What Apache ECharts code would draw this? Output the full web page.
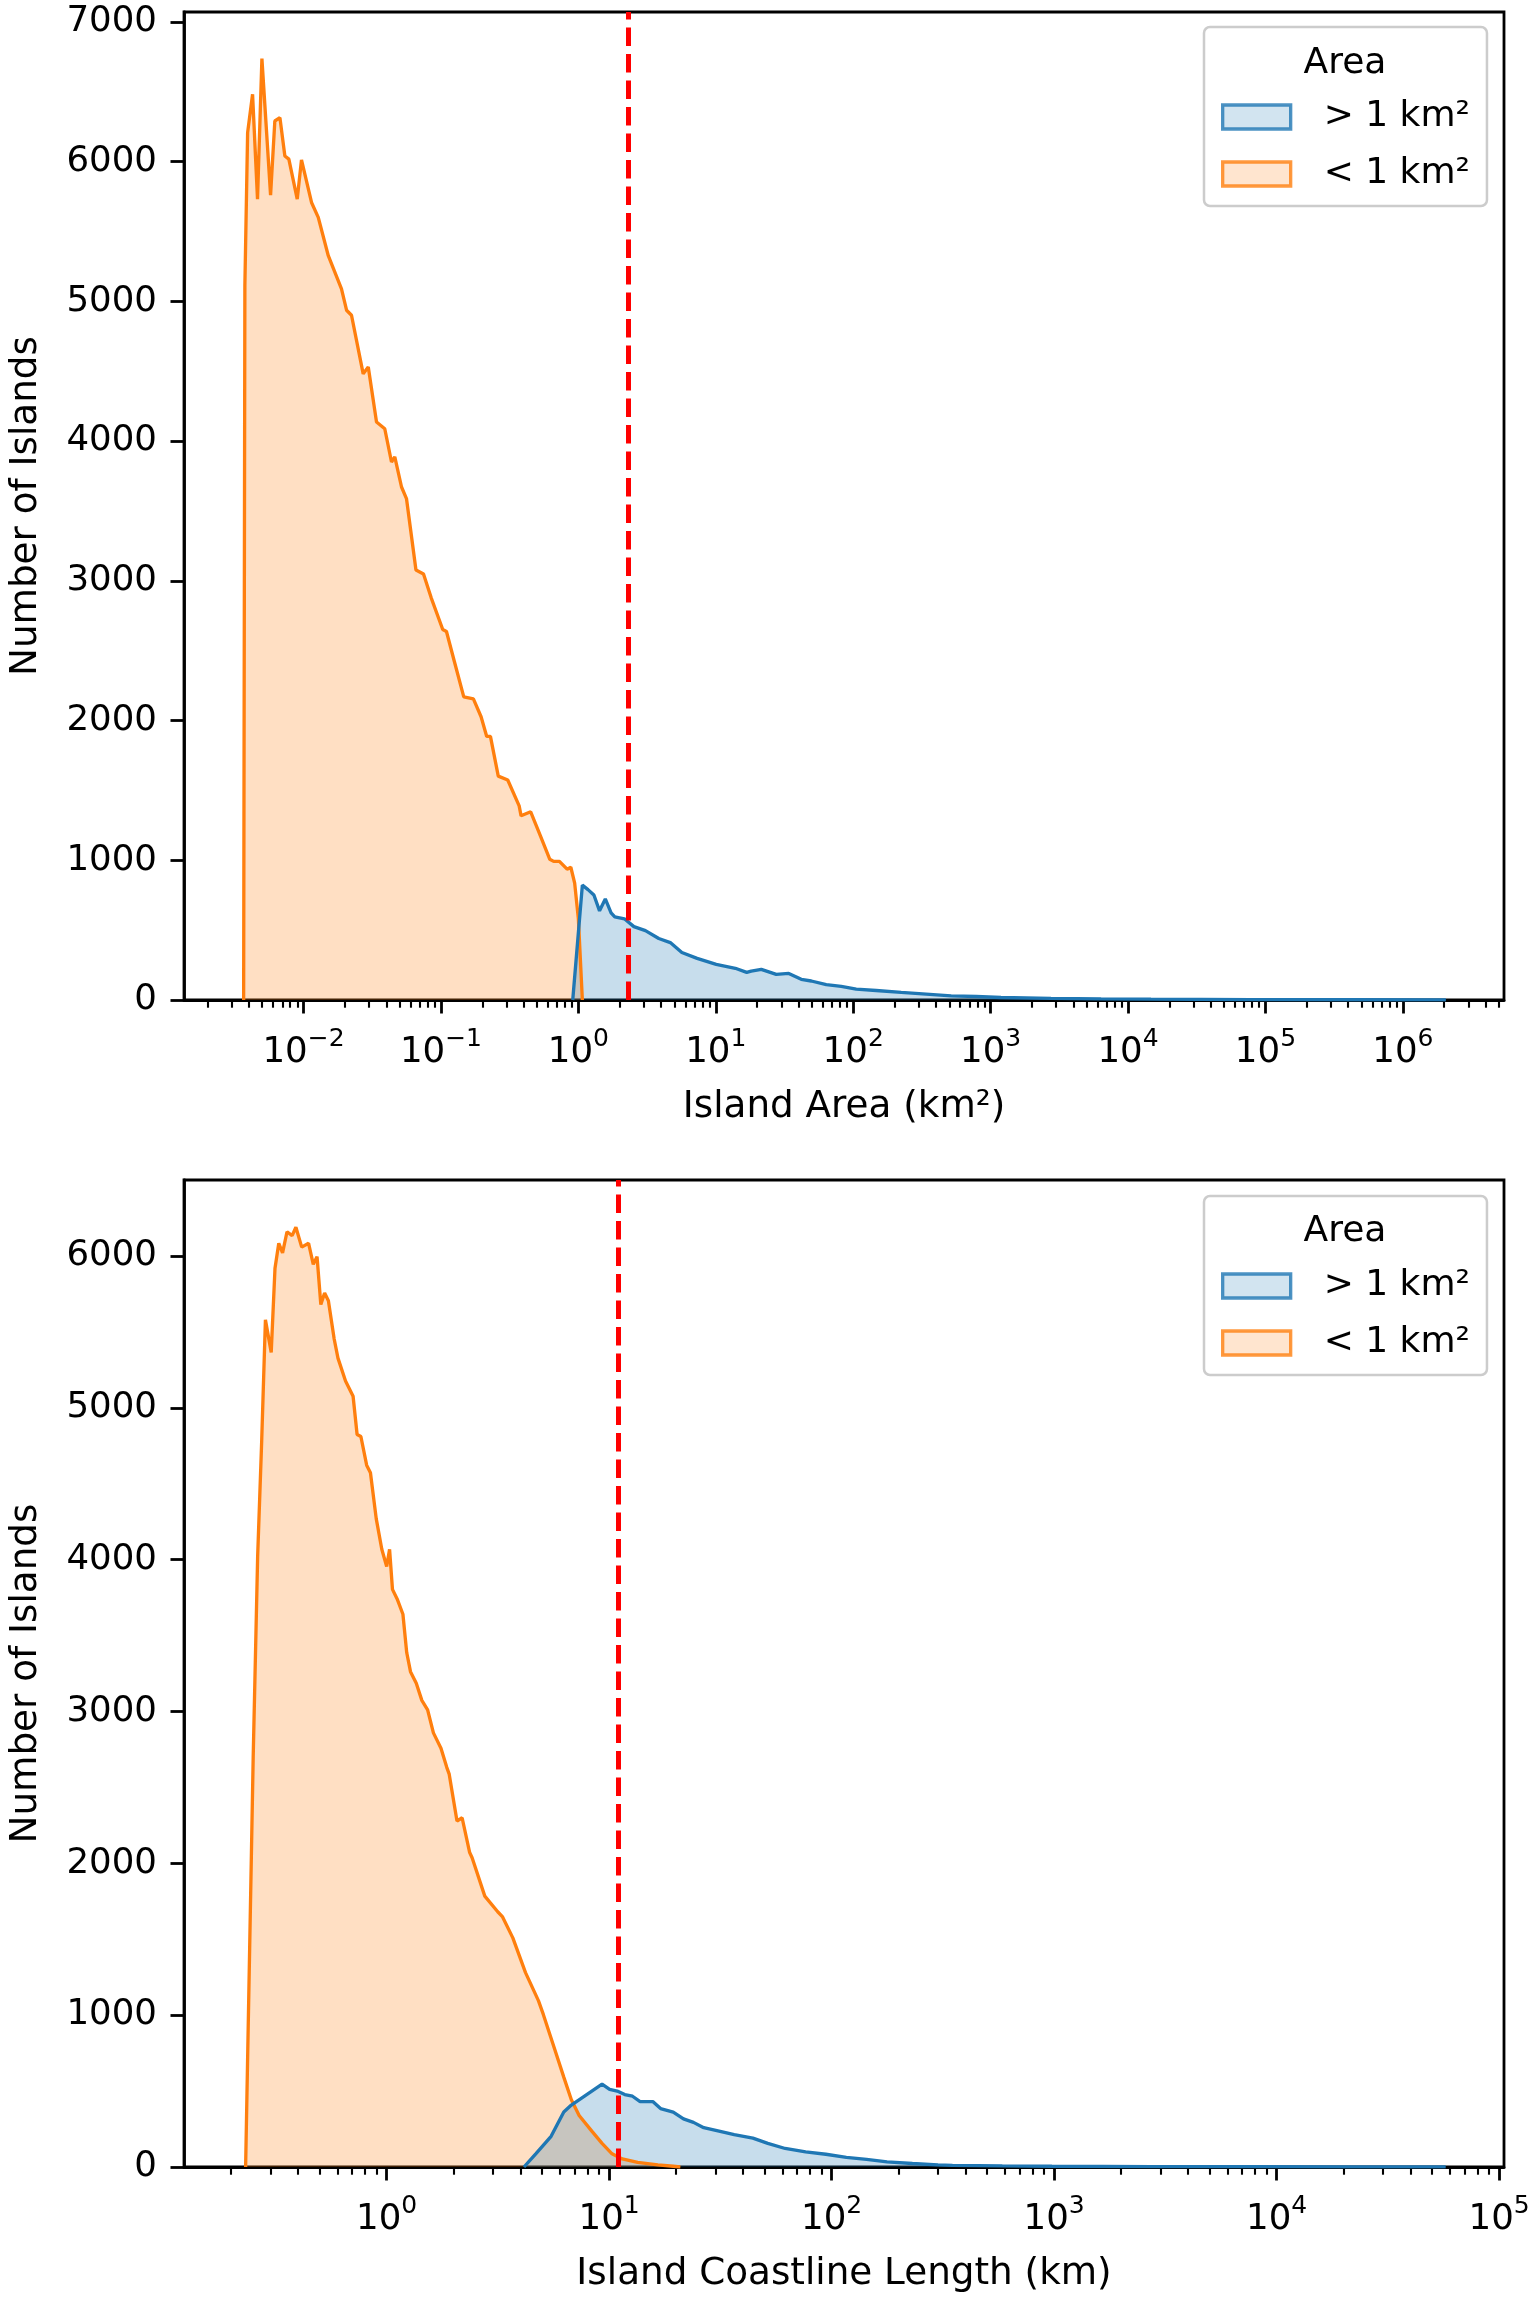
<!DOCTYPE html>
<html>
<head>
<meta charset="utf-8">
<script src="https://cdn.jsdelivr.net/npm/echarts@6/dist/echarts.min.js"></script>
<style>html,body{margin:0;padding:0;background:#fff}#c{width:1535px;height:2297px}</style>
</head>
<body>
<div id="c"></div>
<script>
// ---- data: [log10(x), count] pairs ----
const areaSmall = [[-2.436,0],[-2.427,5114],[-2.407,6207],[-2.371,6481],[-2.335,5731],[-2.303,6736],[-2.24,5760],[-2.209,6290],[-2.172,6314],[-2.136,6040],[-2.107,6017],[-2.046,5731],[-2.015,6012],[-1.942,5707],[-1.893,5600],[-1.82,5326],[-1.724,5088],[-1.687,4936],[-1.651,4900],[-1.566,4481],[-1.529,4529],[-1.469,4136],[-1.409,4088],[-1.36,3850],[-1.336,3886],[-1.287,3671],[-1.251,3588],[-1.182,3077],[-1.127,3048],[-1.071,2878],[-0.987,2651],[-0.96,2637],[-0.903,2424],[-0.834,2169],[-0.764,2155],[-0.708,2027],[-0.667,1886],[-0.64,1886],[-0.583,1602],[-0.514,1574],[-0.431,1389],[-0.417,1318],[-0.347,1347],[-0.277,1177],[-0.208,1007],[-0.18,992],[-0.138,992],[-0.082,936],[-0.055,950],[-0.027,836],[0.0,581],[0.029,0]];
const areaLarge = [[-0.041,0],[0.029,822],[0.07,790],[0.113,751],[0.154,638],[0.196,723],[0.238,624],[0.265,595],[0.335,581],[0.404,525],[0.488,496],[0.585,440],[0.669,411],[0.753,340],[0.864,298],[1.003,255],[1.142,227],[1.225,198],[1.258,207],[1.331,219],[1.44,183],[1.531,190],[1.622,148],[1.695,136],[1.804,110],[1.913,98],[2.022,78],[2.167,68],[2.349,54],[2.531,42],[2.713,30],[2.895,25],[3.076,18],[3.44,12],[3.804,8],[4.167,6],[4.895,3],[5.622,2],[6.313,1],[6.313,0]];
const coastSmall = [[-0.634,0],[-0.6,2700],[-0.58,4018],[-0.562,4773],[-0.545,5579],[-0.519,5365],[-0.502,5919],[-0.485,6083],[-0.468,6020],[-0.448,6159],[-0.425,6134],[-0.408,6189],[-0.382,6058],[-0.351,6083],[-0.33,5945],[-0.313,5995],[-0.296,5680],[-0.279,5756],[-0.262,5705],[-0.236,5453],[-0.219,5327],[-0.185,5176],[-0.151,5076],[-0.133,4824],[-0.116,4811],[-0.09,4622],[-0.073,4572],[-0.047,4270],[-0.022,4068],[0.0,3955],[0.013,4068],[0.026,3804],[0.047,3741],[0.073,3640],[0.09,3388],[0.107,3262],[0.133,3186],[0.158,3073],[0.184,3010],[0.21,2859],[0.244,2758],[0.27,2632],[0.281,2587],[0.316,2278],[0.339,2300],[0.373,2071],[0.384,2037],[0.441,1784],[0.499,1681],[0.521,1647],[0.567,1509],[0.624,1280],[0.682,1096],[0.704,1005],[0.75,798],[0.796,592],[0.83,443],[0.865,339],[0.922,236],[0.968,156],[1.013,87],[1.059,53],[1.128,30],[1.219,14],[1.288,5],[1.32,0]];
const coastLarge = [[0.617,0],[0.67,87],[0.739,202],[0.796,362],[0.83,408],[0.876,454],[0.922,500],[0.968,546],[1.002,511],[1.036,500],[1.07,477],[1.105,466],[1.139,431],[1.196,431],[1.231,385],[1.288,362],[1.334,317],[1.379,294],[1.425,259],[1.494,236],[1.562,213],[1.646,190],[1.713,156],[1.791,122],[1.883,99],[1.974,84],[2.066,64],[2.157,50],[2.249,34],[2.363,23],[2.478,14],[2.543,11],[2.767,7],[2.99,5],[3.44,3],[3.89,2],[4.34,1],[4.76,0.5],[4.76,0]];
const areaThreshold = 2.3;     // km², red dashed line (top)
const coastThreshold = 11;     // km, red dashed line (bottom)
const yTicksTop = [0,1000,2000,3000,4000,5000,6000,7000];
const yTicksBottom = [0,1000,2000,3000,4000,5000,6000];
const seriesNames = ['> 1 km²', '< 1 km²'];
const legendTitle = 'Area';
const xTitleTop = 'Island Area (km²)';
const xTitleBottom = 'Island Coastline Length (km)';
const yTitle = 'Number of Islands';

// ---- helpers ----
const FONT = 'DejaVu Sans';
const FS_TICK = 35.6, FS_SUP = 25, FS_LABEL = 37.3, FS_LEG = 36;
const BLUE = '#1f77b4', ORANGE = '#ff7f0e';
const BLUE_F = 'rgba(31,119,180,0.25)', ORANGE_F = 'rgba(255,127,14,0.25)';
const toPts = arr => arr.map(p => [Math.pow(10, p[0]), p[1]]);
function majors(lo, hi) { const o = []; for (let n = Math.ceil(lo); n <= Math.floor(hi); n++) o.push(Math.pow(10, n)); return o; }
function minors(lo, hi) { const o = []; for (let n = Math.floor(lo); n <= Math.ceil(hi); n++) for (let k = 2; k <= 9; k++) { const l = n + Math.log10(k); if (l > lo && l < hi) o.push(k * Math.pow(10, n)); } return o; }
function expLabel(v) { const e = Math.round(Math.log10(v)); return '{b|10}{s|' + (e < 0 ? '\u2212' + (-e) : String(e)) + '}'; }

const ranges = [[-2.87, 6.736], [-0.911, 5.022]];
const xNames = [xTitleTop, xTitleBottom];
const yMax = [7070, 6500];
const yTicks = [yTicksTop, yTicksBottom];

const xAxes = [], yAxes = [];
ranges.forEach((r, g) => {
  const mn = Math.pow(10, r[0]), mx = Math.pow(10, r[1]);
  xAxes.push({
    type: 'log', logBase: 10, gridIndex: g, position: 'bottom', min: mn, max: mx,
    axisLine: { show: true, lineStyle: { color: '#000', width: 2.8 } },
    axisTick: { show: true, length: 13.5, lineStyle: { color: '#000', width: 2.8 }, customValues: majors(r[0], r[1]) },
    axisLabel: { show: true, customValues: majors(r[0], r[1]), formatter: expLabel, margin: 26.5, color: '#000',
      rich: { b: { fontSize: FS_TICK, fontFamily: FONT, color: '#000', padding: [8, 0, 0, 0] },
              s: { fontSize: FS_SUP, fontFamily: FONT, color: '#000', verticalAlign: 'top' } } },
    splitLine: { show: false }, minorTick: { show: false },
    name: xNames[g], nameLocation: 'middle', nameGap: 89,
    nameTextStyle: { fontSize: FS_LABEL, fontFamily: FONT, color: '#000' }
  });
  xAxes.push({
    type: 'log', logBase: 10, gridIndex: g, position: 'bottom', min: mn, max: mx,
    axisLine: { show: false },
    axisTick: { show: true, length: 7.7, lineStyle: { color: '#000', width: 2.1 }, customValues: minors(r[0], r[1]) },
    axisLabel: { show: false }, splitLine: { show: false }
  });
  yAxes.push({
    type: 'value', gridIndex: g, min: 0, max: yMax[g],
    axisLine: { show: true, lineStyle: { color: '#000', width: 2.8 } },
    axisTick: { show: true, length: 13.5, lineStyle: { color: '#000', width: 2.8 }, customValues: yTicks[g] },
    axisLabel: { show: true, customValues: yTicks[g], formatter: v => String(v), margin: 27, fontSize: FS_TICK, fontFamily: FONT, color: '#000' },
    splitLine: { show: false },
    name: yTitle, nameLocation: 'middle', nameGap: 139, nameRotate: 90,
    nameTextStyle: { fontSize: FS_LABEL, fontFamily: FONT, color: '#000' }
  });
});

function dummy(name, fill, edge) {
  return { type: 'scatter', name: name, data: [], xAxisIndex: 0, yAxisIndex: 0,
    itemStyle: { color: fill, borderColor: edge, borderWidth: 3.33 } };
}
function curve(name, data, color, fill, xi, yi, thr) {
  const s = { type: 'line', name: name, data: toPts(data), xAxisIndex: xi, yAxisIndex: yi,
    showSymbol: false, symbol: 'none', smooth: false, silent: true,
    lineStyle: { color: color, width: 3.33 }, itemStyle: { color: color },
    areaStyle: { color: fill, opacity: 1 } };
  if (thr !== undefined) {
    s.markLine = { silent: true, symbol: ['none', 'none'], label: { show: false },
      lineStyle: { color: '#ff0000', width: 5, type: [18.5, 8] },
      data: [{ xAxis: thr }] };
  }
  return s;
}

function legendAt(top) {
  return {
    orient: 'vertical', left: 1204, top: top, padding: [70, 17, 12, 17],
    itemWidth: 68, itemHeight: 24, itemGap: 17, icon: 'rect', selectedMode: false,
    backgroundColor: 'rgba(255,255,255,0.8)', borderColor: '#cccccc', borderWidth: 2.5, borderRadius: 6,
    itemStyle: { borderWidth: 3.33 },
    textStyle: { fontSize: FS_LEG, fontFamily: FONT, color: '#000', lineHeight: 40, padding: [0, 0, 0, 28] },
    data: seriesNames
  };
}

const chart = echarts.init(document.getElementById('c'), null, { renderer: 'canvas' });
chart.setOption({
  animation: false,
  backgroundColor: '#ffffff',
  grid: [
    { left: 182, right: 31, top: 12, height: 988, show: true, borderColor: '#000', borderWidth: 2.8 },
    { left: 182, right: 31, top: 1180, height: 987, show: true, borderColor: '#000', borderWidth: 2.8 }
  ],
  xAxis: xAxes,
  yAxis: yAxes,
  legend: [legendAt(27), legendAt(1196)],
  graphic: [
    { type: 'text', x: 1345, y: 64, z: 100, style: { text: legendTitle, fontSize: FS_LEG, fontFamily: FONT, fill: '#000', align: 'center', verticalAlign: 'middle' } },
    { type: 'text', x: 1345, y: 1232, z: 100, style: { text: legendTitle, fontSize: FS_LEG, fontFamily: FONT, fill: '#000', align: 'center', verticalAlign: 'middle' } }
  ],
  series: [
    dummy(seriesNames[0], BLUE_F, BLUE),
    dummy(seriesNames[1], ORANGE_F, ORANGE),
    curve(seriesNames[1], areaSmall, ORANGE, ORANGE_F, 0, 0),
    curve(seriesNames[0], areaLarge, BLUE, BLUE_F, 0, 0, areaThreshold),
    curve(seriesNames[1], coastSmall, ORANGE, ORANGE_F, 2, 1),
    curve(seriesNames[0], coastLarge, BLUE, BLUE_F, 2, 1, coastThreshold)
  ]
});
</script>
</body>
</html>
